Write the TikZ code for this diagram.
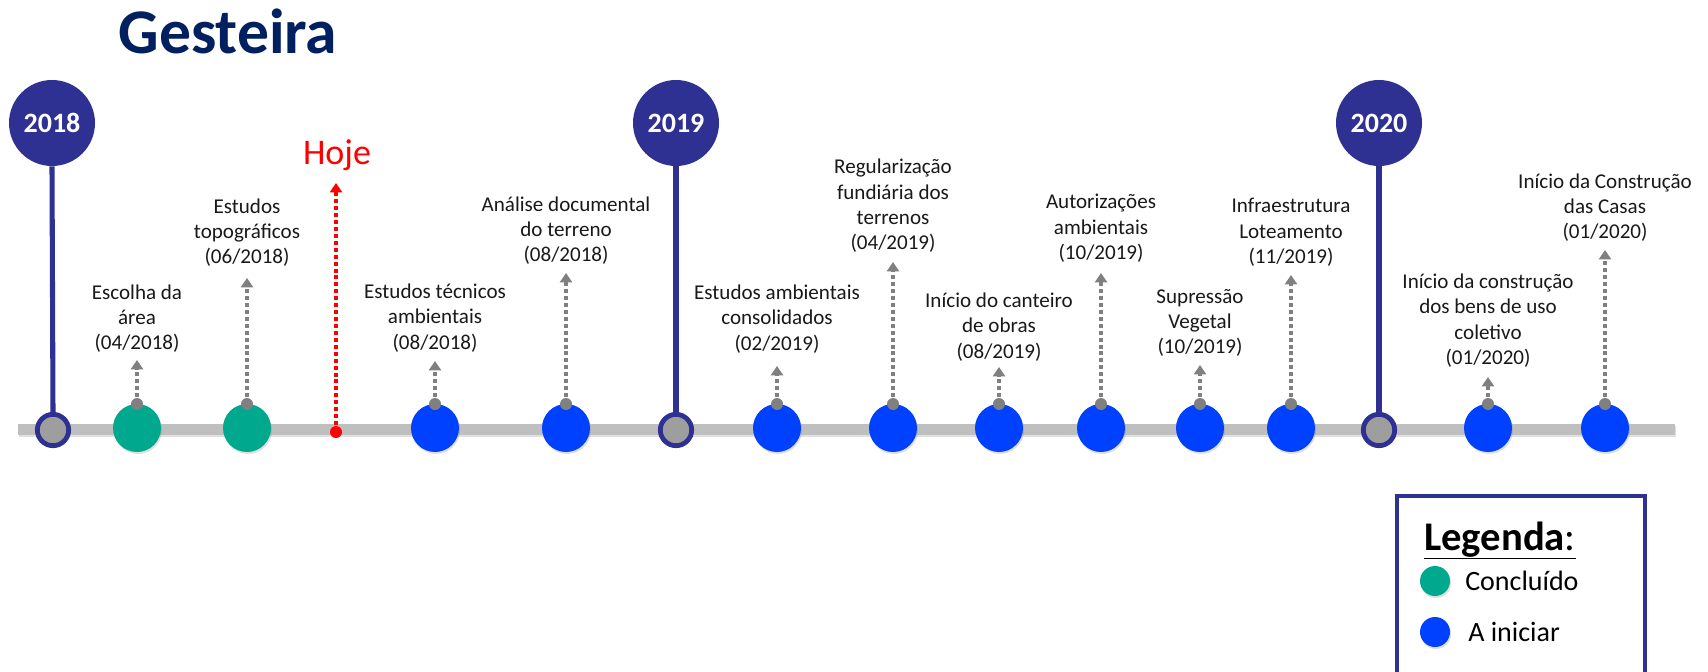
\documentclass[tikz,border=0pt]{standalone}
\usepackage{fontspec}
\setmainfont{Carlito}
\usetikzlibrary{arrows.meta,shadows}
\definecolor{navy}{RGB}{46,49,146}
\definecolor{titleblue}{RGB}{0,32,96}
\definecolor{donegreen}{RGB}{0,168,142}
\definecolor{todoblue}{RGB}{0,65,255}
\definecolor{bargray}{RGB}{191,191,191}
\definecolor{dotgray}{RGB}{128,128,128}
\definecolor{ringgray}{RGB}{158,158,158}
\tikzset{
  yearcirc/.style={circle, fill=navy, minimum size=64.5pt, inner sep=0pt, text=white, font=\fontsize{21}{25}\selectfont\bfseries},
  ring/.style={circle, draw=navy, line width=3.6pt, fill=ringgray, minimum size=23.5pt, inner sep=0pt},
  stem/.style={draw=navy, line width=3.8pt},
  evt/.style={circle, minimum size=36pt, inner sep=0pt, drop shadow={shadow xshift=0.8pt, shadow yshift=-1.5pt, opacity=0.25}},
  doneevt/.style={evt, fill=donegreen},
  todoevt/.style={evt, fill=todoblue},
  gdot/.style={circle, fill=dotgray, minimum size=9pt, inner sep=0pt},
  lbl/.style={align=center, inner sep=0pt, font=\fontsize{15.8}{19}\selectfont, text=black!90},
  garrow/.style={draw=dotgray, line width=3pt, dash pattern=on 3pt off 2.2pt, -{Triangle[width=9pt,length=7pt]}},
  rarrow/.style={draw=red, line width=3pt, dash pattern=on 3pt off 2.2pt, -{Triangle[width=9pt,length=7pt]}},
}
\begin{document}
\begin{tikzpicture}[x=0.75pt,y=-0.75pt]
\useasboundingbox (0,0) rectangle (1708,671);
\fill[white] (0,0) rectangle (1708,671);

% title
\node[anchor=base, font=\fontsize{47.7}{52}\selectfont\bfseries, text=titleblue] (title) at (228,53) {Gesteira};

% bar
\coordinate (bl) at (18,429);
\coordinate (br) at (1675,429);
\coordinate (bls) at (19,431.5);
\coordinate (brs) at (1676,431.5);
\draw[black, opacity=0.12, line width=8.5pt] (bls) -- (brs);
\draw[bargray, line width=8.25pt] (bl) -- (br);

% year markers
\node[yearcirc] (y18) at (52,123) {2018};
\node[ring] (r18) at (53,430) {};
\draw[stem] (y18.south) -- (r18.north);
\node[yearcirc] (y19) at (676,123) {2019};
\node[ring] (r19) at (676,430) {};
\draw[stem] (y19.south) -- (r19.north);
\node[yearcirc] (y20) at (1379,123) {2020};
\node[ring] (r20) at (1379,430) {};
\draw[stem] (y20.south) -- (r20.north);

% Hoje
\node[font=\fontsize{27}{31}\selectfont, text=red] (hoje) at (337,155) {Hoje};
\node[circle, fill=red, minimum size=9pt, inner sep=0pt] (hdot) at (336,432) {};
\coordinate (htip) at (336,183);
\draw[rarrow] (hdot.center) -- (htip);

% events
\node[doneevt] (e1) at (137,428) {};
\node[gdot] (d1) at (137,404) {};
\coordinate (p1) at (137,360);
\draw[garrow] (d1.center) -- (p1);
\node[lbl] (t1) at (137,318.5) {Escolha da\\área\\(04/2018)};

\node[doneevt] (e2) at (247,428) {};
\node[gdot] (d2) at (247,404) {};
\coordinate (p2) at (247,278);
\draw[garrow] (d2.center) -- (p2);
\node[lbl] (t2) at (247,232.5) {Estudos\\topográficos\\(06/2018)};

\node[todoevt] (e3) at (435,428) {};
\node[gdot] (d3) at (435,404) {};
\coordinate (p3) at (435,361);
\draw[garrow] (d3.center) -- (p3);
\node[lbl] (t3) at (435,318) {Estudos técnicos\\ambientais\\(08/2018)};

\node[todoevt] (e4) at (566,428) {};
\node[gdot] (d4) at (566,404) {};
\coordinate (p4) at (566,273);
\draw[garrow] (d4.center) -- (p4);
\node[lbl] (t4) at (566,230.5) {Análise documental\\do terreno\\(08/2018)};

\node[todoevt] (e5) at (777,428) {};
\node[gdot] (d5) at (777,404) {};
\coordinate (p5) at (777,366);
\draw[garrow] (d5.center) -- (p5);
\node[lbl] (t5) at (777,319) {Estudos ambientais\\consolidados\\(02/2019)};

\node[todoevt] (e6) at (893,428) {};
\node[gdot] (d6) at (893,404) {};
\coordinate (p6) at (893,262);
\draw[garrow] (d6.center) -- (p6);
\node[lbl] (t6) at (893,206) {Regularização\\fundiária dos\\terrenos\\(04/2019)};

\node[todoevt] (e7) at (999,428) {};
\node[gdot] (d7) at (999,404) {};
\coordinate (p7) at (999,367);
\draw[garrow] (d7.center) -- (p7);
\node[lbl] (t7) at (999,327) {Início do canteiro\\de obras\\(08/2019)};

\node[todoevt] (e8) at (1101,428) {};
\node[gdot] (d8) at (1101,404) {};
\coordinate (p8) at (1101,273);
\draw[garrow] (d8.center) -- (p8);
\node[lbl] (t8) at (1101,228.5) {Autorizações\\ambientais\\(10/2019)};

\node[todoevt] (e9) at (1200,428) {};
\node[gdot] (d9) at (1200,404) {};
\coordinate (p9) at (1200,365);
\draw[garrow] (d9.center) -- (p9);
\node[lbl] (t9) at (1200,323) {Supressão\\Vegetal\\(10/2019)};

\node[todoevt] (e10) at (1291,428) {};
\node[gdot] (d10) at (1291,404) {};
\coordinate (p10) at (1291,275);
\draw[garrow] (d10.center) -- (p10);
\node[lbl] (t10) at (1291,232.5) {Infraestrutura\\Loteamento\\(11/2019)};

\node[todoevt] (e11) at (1488,428) {};
\node[gdot] (d11) at (1488,404) {};
\coordinate (p11) at (1488,377);
\draw[garrow] (d11.center) -- (p11);
\node[lbl] (t11) at (1488,320.5) {Início da construção\\dos bens de uso\\coletivo\\(01/2020)};

\node[todoevt] (e12) at (1605,428) {};
\node[gdot] (d12) at (1605,404) {};
\coordinate (p12) at (1605,250);
\draw[garrow] (d12.center) -- (p12);
\node[lbl] (t12) at (1605,207.5) {Início da Construção\\das Casas\\(01/2020)};

% legend
\coordinate (lg1) at (1397,690);
\coordinate (lg2) at (1397,496);
\coordinate (lg3) at (1645,496);
\coordinate (lg4) at (1645,690);
\draw[navy, line width=3pt] (lg1) -- (lg2) -- (lg3) -- (lg4);
\node[anchor=base west, inner sep=0pt, font=\fontsize{30.5}{35}\selectfont] (legt) at (1424,550) {\underline{\textbf{Legenda}:}};
\node[circle, fill=donegreen, minimum size=22.5pt, inner sep=0pt, drop shadow={shadow xshift=0.8pt, shadow yshift=-1.5pt, opacity=0.25}] (lgc) at (1435,581) {};
\node[anchor=west, inner sep=0pt, font=\fontsize{21}{25}\selectfont] (lgct) at (1465,581) {Concluído};
\node[circle, fill=todoblue, minimum size=22.5pt, inner sep=0pt, drop shadow={shadow xshift=0.8pt, shadow yshift=-1.5pt, opacity=0.25}] (lgb) at (1435,632) {};
\node[anchor=west, inner sep=0pt, font=\fontsize{21}{25}\selectfont] (lgbt) at (1468,632) {A iniciar};
\end{tikzpicture}
\end{document}
